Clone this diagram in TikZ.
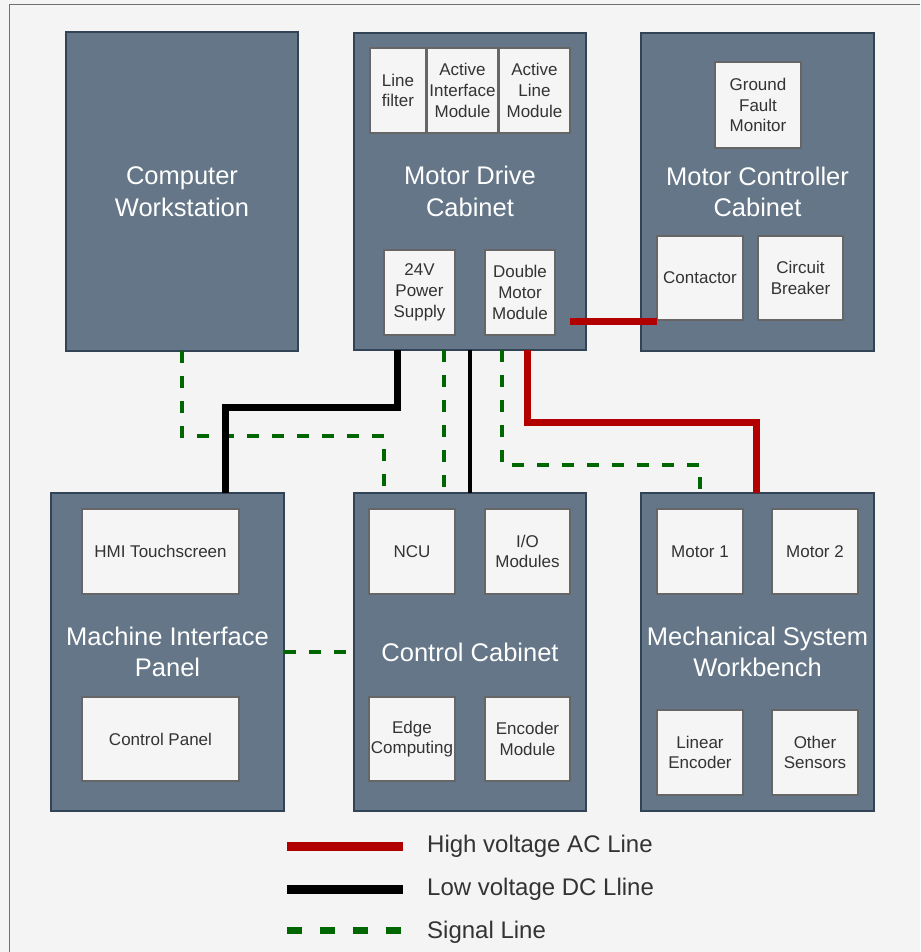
\documentclass[tikz,border=0pt]{standalone}
\usepackage{fontspec}
\setmainfont{Liberation Sans}
\definecolor{boxfill}{HTML}{647687}
\definecolor{boxline}{HTML}{314354}
\definecolor{innerfill}{HTML}{F5F5F5}
\definecolor{innerline}{HTML}{666666}
\definecolor{txtgray}{HTML}{333333}
\definecolor{bgcol}{HTML}{F4F4F4}
\definecolor{hvred}{HTML}{B20000}
\definecolor{siggreen}{HTML}{006600}
\definecolor{framegray}{HTML}{707070}
\begin{document}
\begin{tikzpicture}[x=1pt,y=-1pt,
  outerbox/.style={rectangle, draw=boxline, fill=boxfill, line width=2pt, outer sep=0pt, inner sep=0pt,
    text=white, align=center, font=\fontsize{25.5}{31.5}\selectfont},
  innerbox/.style={rectangle, draw=innerline, fill=innerfill, line width=2pt, outer sep=0pt, inner sep=0pt,
    text=txtgray, align=center, font=\fontsize{17}{20.8}\selectfont},
  hvline/.style={draw=hvred, line width=7pt},
  dcline/.style={draw=black, line width=7pt},
  dcthin/.style={draw=black, line width=4pt},
  sigline/.style={draw=siggreen, line width=4pt, dash pattern=on 12pt off 13pt},
  hvleg/.style={draw=hvred, line width=9pt},
  dcleg/.style={draw=black, line width=9pt},
  sigleg/.style={draw=siggreen, line width=7pt, dash pattern=on 15pt off 18pt},
  legtext/.style={anchor=base west, inner sep=0pt, text=txtgray, font=\fontsize{24}{28}\selectfont}
]
\useasboundingbox[fill=bgcol] (0,0) rectangle (920,952);
\draw[framegray, line width=1.5pt] (9.5,952) -- (9.5,4.5) -- (920,4.5);

% outer boxes
\node[outerbox, minimum width=232, minimum height=319] (cw) at (182,191.5) {Computer\\Workstation};
\node[outerbox, minimum width=232, minimum height=317] (mdc) at (470,191.5) {Motor Drive\\Cabinet};
\node[outerbox, minimum width=233, minimum height=318] (mcc) at (757.5,192) {Motor Controller\\Cabinet};
\node[outerbox, minimum width=233, minimum height=318] (mip) at (167.5,652) {Machine Interface\\Panel};
\node[outerbox, minimum width=232, minimum height=318] (cc) at (470,652) {Control Cabinet};
\node[outerbox, minimum width=233, minimum height=318] (mech) at (757.5,652) {Mechanical System\\Workbench};

% inner boxes: motor drive cabinet
\node[innerbox, minimum width=56, minimum height=85] (lf) at (398,90.5) {Line\\filter};
\node[innerbox, minimum width=71, minimum height=85] (aim) at (462.5,90.5) {Active\\Interface\\Module};
\node[innerbox, minimum width=71, minimum height=85] (alm) at (534.5,90.5) {Active\\Line\\Module};
\node[innerbox, minimum width=71, minimum height=85] (ps) at (419.5,292.5) {24V\\Power\\Supply};
\node[innerbox, minimum width=70, minimum height=85] (dmm) at (520,292.5) {Double\\Motor\\Module};
% motor controller cabinet
\node[innerbox, minimum width=86, minimum height=86] (gfm) at (758,105) {Ground\\Fault\\Monitor};
\node[innerbox, minimum width=86, minimum height=84] (con) at (700,278) {Contactor};
\node[innerbox, minimum width=85, minimum height=84] (cb) at (800.5,278) {Circuit\\Breaker};
% machine interface panel
\node[innerbox, minimum width=157, minimum height=85] (hmi) at (160.5,551.5) {HMI Touchscreen};
\node[innerbox, minimum width=157, minimum height=84] (cp) at (160.5,739) {Control Panel};
% control cabinet
\node[innerbox, minimum width=86, minimum height=85] (ncu) at (412,551.5) {NCU};
\node[innerbox, minimum width=85, minimum height=85] (io) at (527.5,551.5) {I/O\\Modules};
\node[innerbox, minimum width=86, minimum height=84] (edge) at (412,739) {Edge\\Computing};
\node[innerbox, minimum width=85, minimum height=84] (enc) at (527.5,739) {Encoder\\Module};
% mechanical system workbench
\node[innerbox, minimum width=86, minimum height=85] (m1) at (700,551.5) {Motor 1};
\node[innerbox, minimum width=86, minimum height=85] (m2) at (815,551.5) {Motor 2};
\node[innerbox, minimum width=86, minimum height=85] (le) at (700,752.5) {Linear\\Encoder};
\node[innerbox, minimum width=86, minimum height=85] (os) at (815,752.5) {Other\\Sensors};

% connectors
\draw[sigline] (cw.south) -- ++(0,85) -| ([xshift=30]cc.north west);
\draw[dcline] ([xshift=43]mdc.south west) -- ++(0,57) -| ([xshift=174]mip.north west);
\draw[sigline] ([xshift=90]mdc.south west) -- ([xshift=90]cc.north west);
\draw[dcthin] (mdc.south) -- (cc.north);
\draw[sigline] ([xshift=148]mdc.south west) -- ++(0,115) -| ([xshift=59]mech.north west);
\draw[hvline] ([xshift=173]mdc.south west) -- ++(0,72) -| ([xshift=115]mech.north west);
\coordinate (redstart) at (570,321);
\draw[hvline] (redstart) -- (redstart -| con.west);
\draw[sigline] (mip.east) -- (cc.west);

% legend
\coordinate (lg1a) at (287,846); \coordinate (lg1b) at (403,846);
\coordinate (lg2a) at (287,889); \coordinate (lg2b) at (403,889);
\coordinate (lg3a) at (287,930); \coordinate (lg3b) at (403,930);
\draw[hvleg] (lg1a) -- (lg1b);
\draw[dcleg] (lg2a) -- (lg2b);
\draw[sigleg] (lg3a) -- (lg3b);
\node[legtext] (lt1) at (427,852.5) {High voltage AC Line};
\node[legtext] (lt2) at (427,895.5) {Low voltage DC Lline};
\node[legtext] (lt3) at (427,938) {Signal Line};
\end{tikzpicture}
\end{document}
